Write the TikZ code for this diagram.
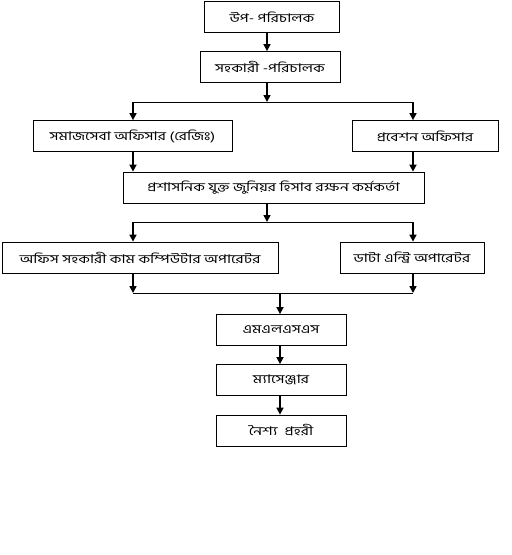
\documentclass[tikz,border=0pt]{standalone}
\usepackage{fontspec}
\newfontfamily\bnfont[Script=Bengali,FakeStretch=1.3]{Hind Siliguri}
\usetikzlibrary{arrows.meta}

\begin{document}
\begin{tikzpicture}[x=1pt,y=-1pt]

      \useasboundingbox (0,0) rectangle (512,555);

      \begin{scope}[every node/.style={rectangle,draw,line width=0.8pt,minimum height=31pt,inner sep=0pt,font=\bnfont\fontsize{12}{14}\selectfont}]
        \node[minimum width=135pt] (1) at (272,17) {উপ- পরিচালক};
        \node[minimum width=140pt] (2) at (270,67) {সহকারী -পরিচালক};
        \node[minimum width=199pt] (3) at (132.5,136) {সমাজসেবা অফিসার (রেজিঃ)};
        \node[minimum width=146pt] (4) at (425,136) {প্রবেশন অফিসার};
        \node[minimum width=301pt] (5) at (273.5,187.5) {প্রশাসনিক যুক্ত জুনিয়র হিসাব রক্ষন কর্মকর্তা};
        \node[minimum width=276pt] (6) at (140,257.5) {অফিস সহকারী কাম কম্পিউটার অপারেটর};
        \node[minimum width=144pt] (7) at (412,257.5) {ডাটা এন্ট্রি অপারেটর};
        \node[minimum width=130pt] (8) at (281,330) {এমএলএসএস};
        \node[minimum width=130pt] (9) at (281,380) {ম্যাসেঞ্জার};
        \node[minimum width=130pt] (10) at (281,430.5) {নৈশ্য\ \ প্রহরী};
      \end{scope}

      \coordinate (t1) at (267,102);
      \coordinate (l1) at (133,102);
      \coordinate (r1) at (413,102);
      \coordinate (t2) at (267,222);
      \coordinate (l2) at (133,222);
      \coordinate (r2) at (413,222);
      \coordinate (l3) at (133,293);
      \coordinate (r3) at (413,293);
      \coordinate (t3) at (280,293);

      \begin{scope}[every edge/.style={draw,line width=1.6pt,-{Triangle[length=7pt,width=7pt]}}]
        \path (1.south -| t1) edge (2.north -| t1);
        \path (2.south -| t1) edge (t1);
        \path (l1) edge (3.north -| l1);
        \path (r1) edge (4.north -| r1);
        \path (3.south -| l1) edge (5.north -| l1);
        \path (4.south -| r1) edge (5.north -| r1);
        \path (5.south -| t2) edge (t2);
        \path (l2) edge (6.north -| l2);
        \path (r2) edge (7.north -| r2);
        \path (6.south -| l3) edge (l3);
        \path (7.south -| r3) edge (r3);
        \path (t3) edge (8.north -| t3);
        \path (8.south -| t3) edge (9.north -| t3);
        \path (9.south -| t3) edge (10.north -| t3);
      \end{scope}

      \begin{scope}[every edge/.style={draw,line width=0.8pt}]
        \path (l1) edge (r1);
        \path (l2) edge (r2);
        \path (l3) edge (r3);
      \end{scope}

    \end{tikzpicture}
\end{document}
